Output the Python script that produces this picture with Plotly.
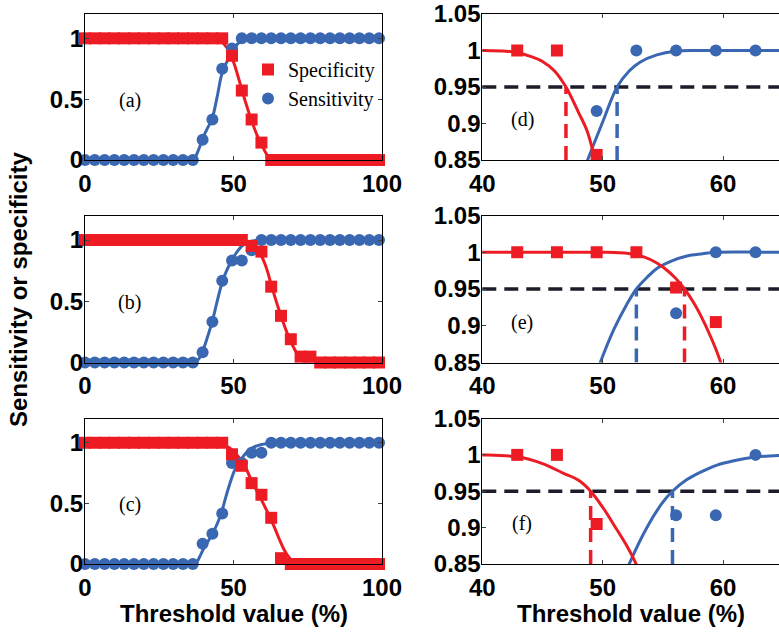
import plotly.graph_objects as go

# ---------------- data ----------------
thr = [0, 3.3, 6.6, 9.9, 13.2, 16.5, 19.8, 23.1, 26.4, 29.7, 33, 36.3, 39.6, 42.9, 46.2,
       49.5, 52.8, 56.1, 59.4, 62.7, 66, 69.3, 72.6, 75.9, 79.2, 82.5, 85.8, 89.1, 92.4, 95.7, 99]

spec_a = [1, 1, 1, 1, 1, 1, 1, 1, 1, 1, 1, 1, 1, 1, 1,
          0.857, 0.571, 0.333, 0.143, 0, 0, 0, 0, 0, 0, 0, 0, 0, 0, 0, 0]
sens_a = [0, 0, 0, 0, 0, 0, 0, 0, 0, 0, 0, 0, 0.167, 0.333, 0.75,
          0.917, 1, 1, 1, 1, 1, 1, 1, 1, 1, 1, 1, 1, 1, 1, 1]

spec_b = [1, 1, 1, 1, 1, 1, 1, 1, 1, 1, 1, 1, 1, 1, 1,
          1, 1, 0.952, 0.905, 0.619, 0.381, 0.190, 0.048, 0.048, 0, 0, 0, 0, 0, 0, 0]
sens_b = [0, 0, 0, 0, 0, 0, 0, 0, 0, 0, 0, 0, 0.083, 0.333, 0.667,
          0.833, 0.833, 0.917, 1, 1, 1, 1, 1, 1, 1, 1, 1, 1, 1, 1, 1]

spec_c = [1, 1, 1, 1, 1, 1, 1, 1, 1, 1, 1, 1, 1, 1, 1,
          0.905, 0.810, 0.667, 0.571, 0.381, 0.048, 0, 0, 0, 0, 0, 0, 0, 0, 0, 0]
sens_c = [0, 0, 0, 0, 0, 0, 0, 0, 0, 0, 0, 0, 0.167, 0.25, 0.417,
          0.833, 0.833, 0.917, 0.917, 1, 1, 1, 1, 1, 1, 1, 1, 1, 1, 1, 1]

# fitted curves (knots)
fit_spec_a_x = [0, 30, 38, 40, 42, 43, 44, 45, 46, 46.95, 48, 48.7, 49.3, 50.5, 52.2, 54, 56,
                58, 60, 61.2, 62.3, 63, 70, 100]
fit_spec_a_y = [1, 1, 1, 1.0, 0.999, 0.997, 0.992, 0.985, 0.972, 0.95, 0.915, 0.89, 0.855, 0.77,
                0.63, 0.48, 0.33, 0.2, 0.1, 0.045, 0.008, 0, 0, 0]
fit_sens_a_x = [0, 30, 35.5, 36.8, 37.5, 38.5, 39.5, 41, 42.8, 44.5, 46, 47.5, 48.75, 50, 51.2,
                52.2, 53.1, 54.5, 56, 58, 65, 100]
fit_sens_a_y = [0, 0, 0, 0, 0.04, 0.1, 0.17, 0.25, 0.34, 0.52, 0.7, 0.795, 0.85, 0.902, 0.95,
                0.972, 0.984, 0.994, 0.999, 1, 1, 1]

fit_spec_b_x = [0, 30, 45, 50, 51, 52, 53, 54, 55, 56, 56.8, 57.5, 58.1, 59, 59.7, 60.5, 61.5,
                62.7, 64, 66, 68, 70, 72, 73.5, 74.5, 80, 100]
fit_spec_b_y = [1, 1, 1, 1, 0.9998, 0.9987, 0.9957, 0.9898, 0.980, 0.9657, 0.95, 0.933, 0.9155,
                0.884, 0.855, 0.81, 0.74, 0.635, 0.53, 0.38, 0.245, 0.135, 0.05, 0.01, 0, 0, 0]
fit_sens_b_x = [0, 30, 35.5, 37, 38.5, 39.6, 41, 42.9, 44.5, 46.2, 47.5, 48.8, 49.8, 50.9, 52.0,
                52.8, 53.7, 54.5, 55.7, 57, 58.3, 59.4, 65, 100]
fit_sens_b_y = [0, 0, 0, 0, 0.035, 0.09, 0.19, 0.34, 0.5, 0.655, 0.74, 0.805, 0.85, 0.894, 0.929,
                0.95, 0.966, 0.978, 0.988, 0.995, 0.998, 1.0, 1, 1]

fit_spec_c_x = [0, 30, 38, 40, 43, 45, 46.7, 48, 49, 50, 51, 52, 52.7, 53.5, 54.5, 55.6, 57.5,
                59.5, 61, 62.3, 64, 65.5, 67, 68.5, 70, 71.5, 72.5, 80, 100]
fit_spec_c_y = [1, 1, 1, 1.0, 0.997, 0.988, 0.975, 0.965, 0.95, 0.928, 0.902, 0.875, 0.853, 0.822,
                0.774, 0.713, 0.62, 0.525, 0.45, 0.385, 0.29, 0.2, 0.12, 0.06, 0.022, 0.004, 0, 0, 0]
fit_sens_c_x = [0, 30, 35.5, 37, 38, 39, 40, 41.5, 43, 44.5, 46, 47.5, 49, 50.5, 52.2, 53.7, 55,
                55.8, 57, 58.1, 59.5, 60.9, 62.7, 64.65, 70, 100]
fit_sens_c_y = [0, 0, 0, 0, 0.03, 0.08, 0.13, 0.19, 0.255, 0.33, 0.43, 0.56, 0.68, 0.78, 0.85,
                0.901, 0.935, 0.95, 0.966, 0.976, 0.986, 0.992, 0.997, 0.999, 1, 1]

criterion = 0.95
cut_spec = [46.95, 56.8, 49.0]   # (d), (e), (f)
cut_sens = [51.2, 52.8, 55.8]

labels_left = ["(a)", "(b)", "(c)"]
labels_right = ["(d)", "(e)", "(f)"]
left_ticks = [0, 0.5, 1]
left_ticktext = ["0", "0.5", "1"]
right_ticks = [0.85, 0.9, 0.95, 1, 1.05]
right_ticktext = ["0.85", "0.9", "0.95", "1", "1.05"]
left_xticks = [0, 50, 100]
right_xticks = [40, 50, 60]

# ---------------- style ----------------
RED = "#ED1C24"
BLUE = "#3A67B1"
DARK = "#1C1C2A"
W, H = 779, 632
TICKFONT = dict(family="Liberation Sans", size=24, color="black", weight="bold")
SERIF = dict(family="Liberation Serif", size=20, color="black")

rows_px = [(14, 160), (215.5, 362.5), (418.5, 564)]
left_px = (85, 382)
right_px = (482.3, 779)
RIGHT_XMAX = 64.65
RIGHT_YMIN = 0.85

def xdom(p):
    return [p[0] / W, p[1] / W]

def ydom(p):
    return [1 - p[1] / H, 1 - p[0] / H]

fig = go.Figure()

data = [(spec_a, sens_a, fit_spec_a_x, fit_spec_a_y, fit_sens_a_x, fit_sens_a_y),
        (spec_b, sens_b, fit_spec_b_x, fit_spec_b_y, fit_sens_b_x, fit_sens_b_y),
        (spec_c, sens_c, fit_spec_c_x, fit_spec_c_y, fit_sens_c_x, fit_sens_c_y)]

layout = {}
shapes = []
annotations = []

for i, (spec, sens, fsx, fsy, fnx, fny) in enumerate(data):
    L = i + 1          # left axis index
    R = i + 4          # right axis index
    for ax, xr in ((L, "left"), (R, "right")):
        xa = "x" if ax == 1 else f"x{ax}"
        ya = "y" if ax == 1 else f"y{ax}"
        if xr == "right":
            px_, py_ = [], []
            qx_, qy_ = [], []
            for xv, yv in zip(thr, sens):
                if 40 <= xv <= RIGHT_XMAX and yv >= RIGHT_YMIN:
                    px_.append(xv); py_.append(yv)
            for xv, yv in zip(thr, spec):
                if 40 <= xv <= RIGHT_XMAX and yv >= RIGHT_YMIN:
                    qx_.append(xv); qy_.append(yv)
        else:
            px_, py_, qx_, qy_ = thr, sens, thr, spec
        # fitted curves
        fig.add_trace(go.Scatter(x=fnx, y=fny, mode="lines", xaxis=xa, yaxis=ya,
                                 line=dict(color=BLUE, width=3, shape="spline", smoothing=1),
                                 showlegend=False, hoverinfo="skip"))
        fig.add_trace(go.Scatter(x=fsx, y=fsy, mode="lines", xaxis=xa, yaxis=ya,
                                 line=dict(color=RED, width=3, shape="spline", smoothing=1),
                                 showlegend=False, hoverinfo="skip"))
        # markers
        fig.add_trace(go.Scatter(x=px_, y=py_, mode="markers", xaxis=xa, yaxis=ya,
                                 marker=dict(color=BLUE, size=12, symbol="circle", line=dict(width=0)),
                                 cliponaxis=False, name="Sensitivity", legendrank=2,
                                 showlegend=(ax == 1)))
        fig.add_trace(go.Scatter(x=qx_, y=qy_, mode="markers", xaxis=xa, yaxis=ya,
                                 marker=dict(color=RED, size=12, symbol="square", line=dict(width=0)),
                                 cliponaxis=False, name="Specificity", legendrank=1,
                                 showlegend=(ax == 1)))

    # axes
    lk = "" if L == 1 else str(L)
    common = dict(ticks="inside", ticklen=4, showline=True, linecolor="black", linewidth=1,
                  showgrid=False, zeroline=False, tickfont=TICKFONT, automargin=False)
    layout[f"xaxis{lk}"] = dict(domain=xdom(left_px), range=[0, 100], anchor=f"y{lk}",
                                tickvals=left_xticks, mirror="ticks", ticklabelstandoff=2,
                                **common)
    layout[f"yaxis{lk}"] = dict(domain=ydom(rows_px[i]), range=[0, 1.2], anchor=f"x{lk}",
                                tickvals=left_ticks, ticktext=left_ticktext, mirror="ticks",
                                ticklabelstandoff=-4, **common)
    layout[f"xaxis{R}"] = dict(domain=xdom(right_px), range=[40, RIGHT_XMAX], anchor=f"y{R}",
                               tickvals=right_xticks, mirror="ticks", ticklabelstandoff=2,
                               **common)
    layout[f"yaxis{R}"] = dict(domain=ydom(rows_px[i]), range=[RIGHT_YMIN, 1.05], anchor=f"x{R}",
                               tickvals=right_ticks, ticktext=right_ticktext, mirror=False,
                               ticklabelstandoff=-4, **common)

    # criterion lines
    shapes.append(dict(type="line", xref=f"x{R} domain", yref=f"y{R}", x0=0, x1=1,
                       y0=criterion, y1=criterion, layer="below",
                       line=dict(color=DARK, width=3.5, dash="14px,8px")))
    shapes.append(dict(type="line", xref=f"x{R}", yref=f"y{R}", x0=cut_spec[i], x1=cut_spec[i],
                       y0=RIGHT_YMIN, y1=criterion, layer="below",
                       line=dict(color=RED, width=3.5, dash="14px,8px")))
    shapes.append(dict(type="line", xref=f"x{R}", yref=f"y{R}", x0=cut_sens[i], x1=cut_sens[i],
                       y0=RIGHT_YMIN, y1=criterion, layer="below",
                       line=dict(color=BLUE, width=3.5, dash="14px,8px")))

    # panel labels
    annotations.append(dict(text=labels_left[i], x=15, y=0.49, xref=f"x{lk}", yref=f"y{lk}",
                            showarrow=False, font=SERIF))
    annotations.append(dict(text=labels_right[i], x=43.3, y=0.905, xref=f"x{R}", yref=f"y{R}",
                            showarrow=False, font=SERIF))

TITLEFONT = dict(family="Liberation Sans", size=24, color="black", weight="bold")
annotations.append(dict(text="Threshold value (%)", x=233.5 / W, y=1 - 613 / H, xref="paper",
                        yref="paper", showarrow=False, font=TITLEFONT,
                        xanchor="center", yanchor="middle"))
annotations.append(dict(text="Threshold value (%)", x=631 / W, y=1 - 613 / H, xref="paper",
                        yref="paper", showarrow=False, font=TITLEFONT,
                        xanchor="center", yanchor="middle"))
annotations.append(dict(text="Sensitivity or specificity", x=18 / W, y=1 - 290 / H,
                        xref="paper", yref="paper", showarrow=False, textangle=-90,
                        font=TITLEFONT, xanchor="center", yanchor="middle"))

fig.update_layout(
    width=W, height=H,
    margin=dict(l=0, r=0, t=0, b=0),
    paper_bgcolor="white", plot_bgcolor="white",
    shapes=shapes, annotations=annotations,
    legend=dict(x=248 / W, y=1 - 50 / H, xanchor="left", yanchor="top",
                bgcolor="rgba(0,0,0,0)", font=SERIF, tracegroupgap=0,
                itemwidth=30),
    **layout,
)

fig.write_html("out.html", config={"displayModeBar": False},
               post_script="document.body.style.margin='0';")
